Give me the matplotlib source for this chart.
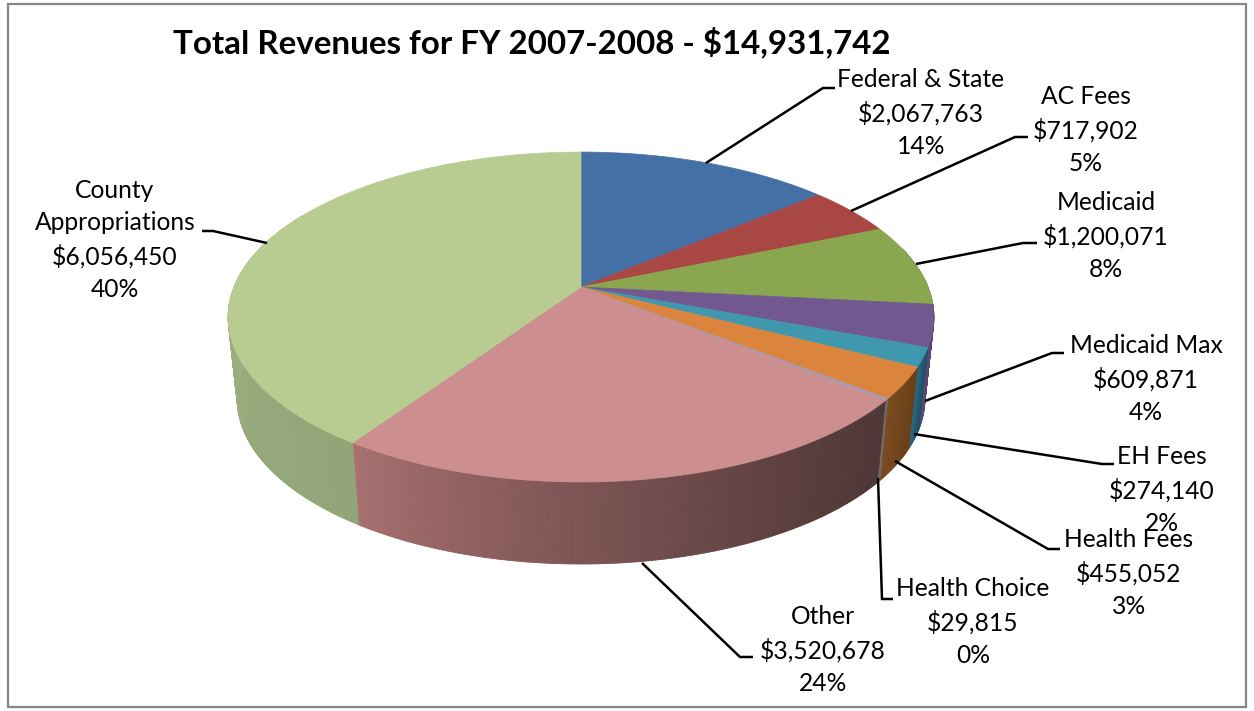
import numpy as np
import matplotlib
matplotlib.use("Agg")
import matplotlib.pyplot as plt
from matplotlib.collections import PolyCollection
from matplotlib.colors import to_rgb
from matplotlib.patches import Rectangle

# ---- data ----
categories = ["Federal & State", "AC Fees", "Medicaid", "Medicaid Max", "EH Fees",
              "Health Fees", "Health Choice", "Other", "County\nAppropriations"]
values = [2067763, 717902, 1200071, 609871, 274140, 455052, 29815, 3520678, 6056450]
percents = ["14%", "5%", "8%", "4%", "2%", "3%", "0%", "24%", "40%"]
title = "Total Revenues for FY 2007-2008 - $14,931,742"

# ---- styles and layout ----
top_colors = ["#4470A6", "#A94744", "#8AA64F", "#71588F", "#4098AF", "#DB843D",
              "#A39CB4", "#CC8E8E", "#B8CC92"]
side_near = ["#3A6090", "#8F3C3A", "#75904A", "#5F4A78", "#2A6A80", "#7A4A1E",
             "#6E6A6E", "#A87070", "#A6B888"]
side_far = ["#2A4A70", "#702E2C", "#5B7038", "#4A3A60", "#1F4E66", "#6A3F18",
            "#6E6A6E", "#4F3636", "#92A578"]
label_xy = [(921, 113), (1086, 130), (1106, 236), (1146, 379), (1162, 490),
            (1129, 573), (973, 622), (823, 650), (115, 240)]
leaders = [[(706, 163), (823, 88), (835, 88)],
           [(851, 211), (1015, 137), (1028, 137)],
           [(916, 264), (1023, 243), (1037, 243)],
           [(925, 401), (1052, 353), (1064, 353)],
           [(914, 434), (1102, 464), (1114, 464)],
           [(895, 461), (1048, 549), (1060, 549)],
           [(878, 478), (882, 599), (893, 599)],
           [(642, 563), (740, 657), (753, 657)],
           [(267, 243), (213, 231), (202, 231)]]
FONT = "Lato"
CX, CY, A, B, K = 581, 287, 347, 159.5, 0.182
DEPTH, BOTTOM_SCALE = 82, 0.974


def project(theta, bottom=False):
    """Map a clockwise-from-top pie angle to the tilted pie's pixel position."""
    u, v = np.sin(theta), np.cos(theta)
    den = 1 + K * v
    x, y = A * u / den, -B * v / den
    if bottom:
        return CX + x * BOTTOM_SCALE, CY + y + DEPTH
    return CX + x, CY + y


fig = plt.figure(figsize=(12.54, 7.11), dpi=100)
ax = fig.add_axes([0, 0, 1, 1])
ax.set_xlim(0, 1254)
ax.set_ylim(711, 0)
ax.axis("off")
ax.add_patch(Rectangle((8, 4), 1238, 703, fill=False, ec="#868686", lw=1.6, zorder=1))

fractions = np.array(values, dtype=float) / np.sum(values)
edges = np.concatenate([[0], np.cumsum(fractions)]) * 2 * np.pi

# side wall, shaded along the rim
side_polys, side_cols = [], []
for i in range(len(values)):
    lo, hi = max(edges[i], np.pi * 0.42), min(edges[i + 1], np.pi * 1.66)
    if hi <= lo:
        continue
    ts = np.linspace(lo, hi, max(3, int((hi - lo) * 120)))
    near, far = np.array(to_rgb(side_near[i])), np.array(to_rgb(side_far[i]))
    for t0, t1 in zip(ts[:-1], ts[1:]):
        x0, y0 = project(t0)
        x1, y1 = project(t1)
        x2, y2 = project(t1, True)
        x3, y3 = project(t0, True)
        side_polys.append([(x0, y0), (x1, y1), (x2, y2), (x3, y3)])
        f = ((0.5 * (t0 + t1) - lo) / max(hi - lo, 1e-6)) ** 1.3
        side_cols.append(far * (1 - f) + near * f)
ax.add_collection(PolyCollection(side_polys, facecolors=side_cols, edgecolors=side_cols,
                                 linewidths=0.6, zorder=2))

# top face
for i in range(len(values)):
    ts = np.linspace(edges[i], edges[i + 1], max(3, int((edges[i + 1] - edges[i]) * 120)))
    xs, ys = project(ts)
    pts = [(CX, CY)] + list(zip(xs, ys))
    ax.fill(*zip(*pts), facecolor=top_colors[i], edgecolor=top_colors[i], lw=0.5, zorder=3)

# leader lines and labels
for pts in leaders:
    ax.plot(*zip(*pts), color="black", lw=1.8, zorder=4, solid_capstyle="butt", solid_joinstyle="miter")
for name, v, p, (x, y) in zip(categories, values, percents, label_xy):
    ax.text(x, y, f"{name}\n${v:,}\n{p}", ha="center", va="center", fontsize=17.7,
            family=FONT, color="black", linespacing=1.49, zorder=5)
ax.text(173, 53, title, ha="left", va="baseline", fontsize=23.9, fontweight="bold",
        family=FONT, color="black", zorder=5)

fig.savefig("out.png", dpi=100)
